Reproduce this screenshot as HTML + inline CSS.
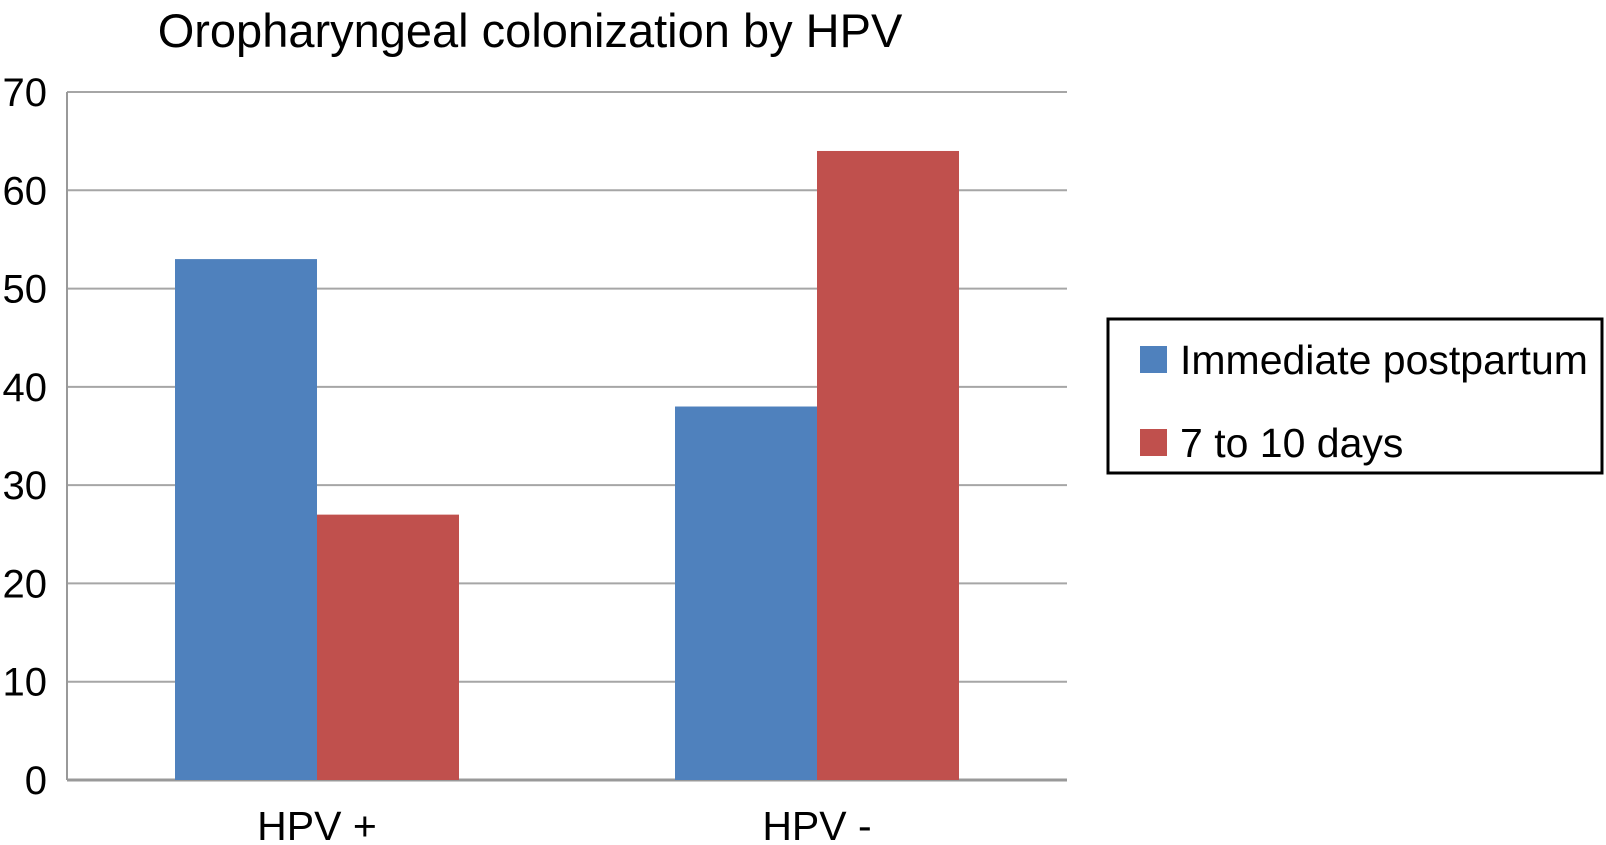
<!DOCTYPE html>
<html><head><meta charset="utf-8"><style>
html,body{margin:0;padding:0;background:#fff;width:1606px;height:845px;overflow:hidden}
text{font-family:"Liberation Sans",sans-serif;fill:#000}
</style></head><body>
<svg id="chart" width="1606" height="845" xmlns="http://www.w3.org/2000/svg">
<text x="530" y="47" font-size="47" text-anchor="middle">Oropharyngeal colonization by HPV</text>
<g id="grid"></g><g id="bars"></g><g id="labels"></g>
<g>
<rect x="1108" y="319" width="494" height="154" fill="#fff" stroke="#000" stroke-width="3"/>
<rect x="1140" y="346" width="27" height="27" fill="#4f81bd"/>
<text x="1180" y="374" font-size="41">Immediate postpartum</text>
<rect x="1140" y="429" width="27" height="27" fill="#c0504d"/>
<text x="1180" y="457" font-size="41">7 to 10 days</text>
</g>
</svg>
<script>
const categories=["HPV +","HPV -"];
const immediate=[53,38];
const days7to10=[27,64];
const yTicks=[0,10,20,30,40,50,60,70];
const NS="http://www.w3.org/2000/svg";
const x0=67,x1=1067,y0=780,yTop=92,yMax=70;
function y(v){return y0-(v/yMax)*(y0-yTop);}
function catX(i){return x0+(x1-x0)/categories.length*i;}
const catW=(x1-x0)/categories.length, barW=catW*0.284;
function mk(tag,attrs,parent){const e=document.createElementNS(NS,tag);for(const k in attrs)e.setAttribute(k,attrs[k]);parent.appendChild(e);return e;}
const grid=document.getElementById('grid'),bars=document.getElementById('bars'),labels=document.getElementById('labels');
yTicks.forEach(t=>{
  const l=mk('line',{x1:x0,x2:x1,y1:y(t),y2:y(t),stroke:t===0?'#999':'#a6a6a6','stroke-width':t===0?3:2},grid);
  
  
  const tx=mk('text',{x:47,y:y(t)+14,'font-size':40,'text-anchor':'end'},labels);
  tx.textContent=t;
  
  
});
const ax=mk('line',{x1:x0,x2:x0,y1:yTop,y2:y0,stroke:'#999','stroke-width':2},grid);


categories.forEach((c,i)=>{
  const cx=catX(i)+catW/2;
  const b1=mk('rect',{x:cx-barW,y:y(immediate[i]),width:barW,height:y0-y(immediate[i]),fill:'#4f81bd'},bars);
  
  
  const b2=mk('rect',{x:cx,y:y(days7to10[i]),width:barW,height:y0-y(days7to10[i]),fill:'#c0504d'},bars);
  
  
  const t=mk('text',{x:cx,y:840,'font-size':41,'text-anchor':'middle'},labels);
  t.textContent=c;
  
  
});
</script>
</body></html>
